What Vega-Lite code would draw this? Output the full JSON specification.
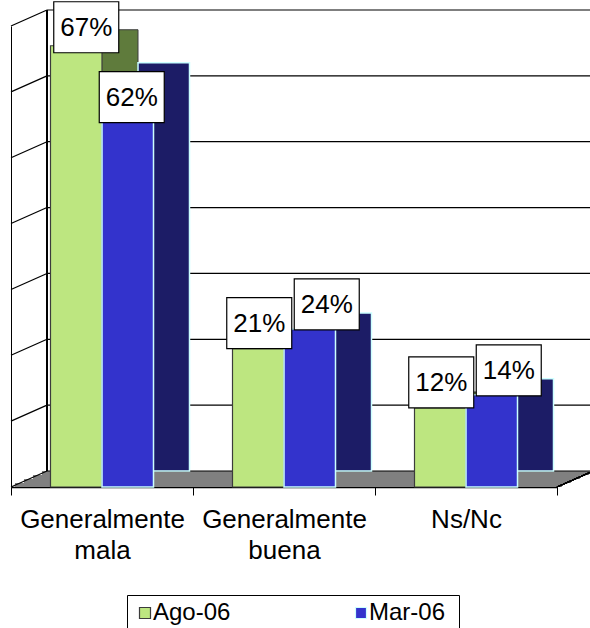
{
  "$schema": "https://vega.github.io/schema/vega-lite/v6.json",
  "autosize": "none",
  "width": 546,
  "height": 461,
  "padding": {"left": 11, "top": 26, "right": 33, "bottom": 141},
  "background": "white",
  "config": {
    "view": {"stroke": null},
    "font": "Liberation Sans",
    "axisX": {"domainColor": "black", "domainWidth": 1.5, "tickColor": "black", "tickSize": 8, "tickBand": "extent", "labelFontSize": 26, "labelColor": "black", "labelFont": "Liberation Sans", "labelPadding": 11, "labelAngle": 0, "labelLineHeight": 31, "labelLimit": 400, "labelOverlap": false, "labelExpr": "split(datum.label, ' ')", "title": null, "grid": false},
    "axisY": {"domainColor": "black", "labels": false, "ticks": false, "grid": false, "title": null},
    "legend": {"orient": "none", "legendX": 116, "legendY": 569, "direction": "horizontal", "columns": 2, "columnPadding": 118, "padding": 6, "strokeColor": "black", "fillColor": "white", "symbolType": "square", "symbolSize": 121, "symbolStrokeWidth": 1.2, "labelFontSize": 24, "labelColor": "black", "labelFont": "Liberation Sans", "labelOffset": -4, "titleOrient": "right", "titlePadding": 8, "titleFontSize": 24, "titleFont": "Liberation Sans"}
  },
  "datasets": {
    "bars": [
      {"cat": "Generalmente mala", "series": "Ago-06", "value": 0.67},
      {"cat": "Generalmente mala", "series": "Mar-06", "value": 0.62},
      {"cat": "Generalmente buena", "series": "Ago-06", "value": 0.21},
      {"cat": "Generalmente buena", "series": "Mar-06", "value": 0.24},
      {"cat": "Ns/Nc", "series": "Ago-06", "value": 0.12},
      {"cat": "Ns/Nc", "series": "Mar-06", "value": 0.14}
    ],
    "grid": [{"v": 0}, {"v": 0.1}, {"v": 0.2}, {"v": 0.3}, {"v": 0.4}, {"v": 0.5}, {"v": 0.6}, {"v": 0.7}]
  },
  "layer": [
    {
      "data": {"name": "grid"},
      "layer": [
        {"mark": {"type": "rect", "color": "#808080", "xOffset": 31.5, "x2Offset": 31.5, "yOffset": -16, "y2Offset": -12},
         "encoding": {"x": {"datum": 0, "type": "quantitative", "scale": {"domain": [0, 1]}, "axis": null}, "x2": {"datum": 1}, "y": {"datum": 0, "type": "quantitative", "scale": {"domain": [0, 0.7], "nice": false}, "axis": {"title": null}}, "y2": {"datum": 0}}},
        {"mark": {"type": "rect", "color": "#808080", "xOffset": 22.5, "x2Offset": 22.5, "yOffset": -12, "y2Offset": -8},
         "encoding": {"x": {"datum": 0, "type": "quantitative", "axis": null}, "x2": {"datum": 1}, "y": {"datum": 0, "type": "quantitative"}, "y2": {"datum": 0}}},
        {"mark": {"type": "rect", "color": "#808080", "xOffset": 13.5, "x2Offset": 13.5, "yOffset": -8, "y2Offset": -4},
         "encoding": {"x": {"datum": 0, "type": "quantitative", "axis": null}, "x2": {"datum": 1}, "y": {"datum": 0, "type": "quantitative"}, "y2": {"datum": 0}}},
        {"mark": {"type": "rect", "color": "#808080", "xOffset": 4.5, "x2Offset": 4.5, "yOffset": -4, "y2Offset": 0},
         "encoding": {"x": {"datum": 0, "type": "quantitative", "axis": null}, "x2": {"datum": 1}, "y": {"datum": 0, "type": "quantitative"}, "y2": {"datum": 0}}},
        {"mark": {"type": "rule", "color": "black", "strokeWidth": 1.2, "xOffset": 36, "x2Offset": 36, "yOffset": -16},
         "encoding": {"x": {"datum": 0, "type": "quantitative", "axis": null}, "x2": {"datum": 1}, "y": {"field": "v", "type": "quantitative"}}},
        {"mark": {"type": "rule", "color": "black", "strokeWidth": 1.2, "x2Offset": 36, "y2Offset": -16},
         "encoding": {"x": {"datum": 0, "type": "quantitative", "axis": null}, "x2": {"datum": 0}, "y": {"field": "v", "type": "quantitative"}, "y2": {"field": "v"}}},
        {"mark": {"type": "rule", "color": "black", "strokeWidth": 1.2, "xOffset": 36, "yOffset": -16, "y2Offset": -16},
         "encoding": {"x": {"datum": 0, "type": "quantitative", "axis": null}, "y": {"datum": 0, "type": "quantitative"}, "y2": {"datum": 0.7}}},
        {"mark": {"type": "rule", "color": "black", "strokeWidth": 1.2, "x2Offset": 36, "y2Offset": -16},
         "encoding": {"x": {"datum": 1, "type": "quantitative", "axis": null}, "x2": {"datum": 1}, "y": {"datum": 0, "type": "quantitative"}, "y2": {"datum": 0}}}
      ]
    },
    {
      "data": {"name": "bars"},
      "encoding": {
        "x": {"field": "cat", "type": "nominal", "sort": null, "scale": {"paddingInner": 0, "paddingOuter": 0}, "title": null},
        "y": {"field": "value", "type": "quantitative", "scale": {"domain": [0, 0.7], "nice": false}, "axis": {"title": null}}
      },
      "layer": [
        {"transform": [{"filter": "datum.series === 'Ago-06'"}],
         "mark": {"type": "bar", "width": 51.5, "xOffset": 10.25, "yOffset": -16, "y2Offset": -16, "fill": "#5f7b3c", "stroke": "#3c3c3c", "strokeWidth": 1},
         "encoding": {"y2": {"datum": 0}}},
        {"transform": [{"filter": "datum.series === 'Mar-06'"}],
         "mark": {"type": "bar", "width": 51.5, "xOffset": 61.75, "yOffset": -16, "y2Offset": -16, "fill": "#1c1c66", "stroke": "#ccffff", "strokeWidth": 1.5},
         "encoding": {"y2": {"datum": 0}}},
        {"transform": [{"filter": "datum.series === 'Ago-06'"}],
         "mark": {"type": "bar", "width": 51.5, "xOffset": -25.75, "strokeWidth": 1.2},
         "encoding": {
           "color": {"field": "series", "type": "nominal", "title": "\u00a0", "scale": {"domain": ["Ago-06", "Mar-06"], "range": ["#bde680", "#3333cc"]}},
           "stroke": {"field": "series", "type": "nominal", "title": "\u00a0", "scale": {"domain": ["Ago-06", "Mar-06"], "range": ["#3c3c3c", "#ccffff"]}}
         }},
        {"transform": [{"filter": "datum.series === 'Mar-06'"}],
         "mark": {"type": "bar", "width": 51.5, "xOffset": 25.75, "strokeWidth": 1.5},
         "encoding": {
           "color": {"field": "series", "type": "nominal", "title": "\u00a0"},
           "stroke": {"field": "series", "type": "nominal", "title": "\u00a0"}
         }},
        {"transform": [{"filter": "datum.series === 'Ago-06' && datum.cat !== 'Generalmente mala'"}],
         "layer": [
           {"mark": {"type": "bar", "width": 65, "fill": "white", "stroke": "black", "strokeWidth": 1.2, "xOffset": -24.75, "yOffset": -51, "y2Offset": 0}, "encoding": {"y2": {"field": "value"}}},
           {"mark": {"type": "text", "fontSize": 26, "color": "black", "baseline": "middle", "align": "center", "xOffset": -24.75, "yOffset": -24.5}, "encoding": {"text": {"field": "value", "type": "quantitative", "format": ".0%"}}}
         ]},
        {"transform": [{"filter": "datum.series === 'Mar-06' && datum.cat !== 'Generalmente mala'"}],
         "layer": [
           {"mark": {"type": "bar", "width": 65, "fill": "white", "stroke": "black", "strokeWidth": 1.2, "xOffset": 42.75, "yOffset": -50, "y2Offset": 1}, "encoding": {"y2": {"field": "value"}}},
           {"mark": {"type": "text", "fontSize": 26, "color": "black", "baseline": "middle", "align": "center", "xOffset": 42.75, "yOffset": -23.5}, "encoding": {"text": {"field": "value", "type": "quantitative", "format": ".0%"}}}
         ]},
        {"transform": [{"filter": "datum.series === 'Ago-06' && datum.cat === 'Generalmente mala'"}],
         "layer": [
           {"mark": {"type": "bar", "width": 65, "fill": "white", "stroke": "black", "strokeWidth": 1.2, "xOffset": -15.75, "yOffset": -44, "y2Offset": 7}, "encoding": {"y2": {"field": "value"}}},
           {"mark": {"type": "text", "fontSize": 26, "color": "black", "baseline": "middle", "align": "center", "xOffset": -15.75, "yOffset": -17.5}, "encoding": {"text": {"field": "value", "type": "quantitative", "format": ".0%"}}}
         ]},
        {"transform": [{"filter": "datum.series === 'Mar-06' && datum.cat === 'Generalmente mala'"}],
         "layer": [
           {"mark": {"type": "bar", "width": 65, "fill": "white", "stroke": "black", "strokeWidth": 1.2, "xOffset": 29.75, "yOffset": -7, "y2Offset": 44}, "encoding": {"y2": {"field": "value"}}},
           {"mark": {"type": "text", "fontSize": 26, "color": "black", "baseline": "middle", "align": "center", "xOffset": 29.75, "yOffset": 19.5}, "encoding": {"text": {"field": "value", "type": "quantitative", "format": ".0%"}}}
         ]}
      ]
    }
  ],
  "resolve": {"scale": {"x": "independent"}}
}
